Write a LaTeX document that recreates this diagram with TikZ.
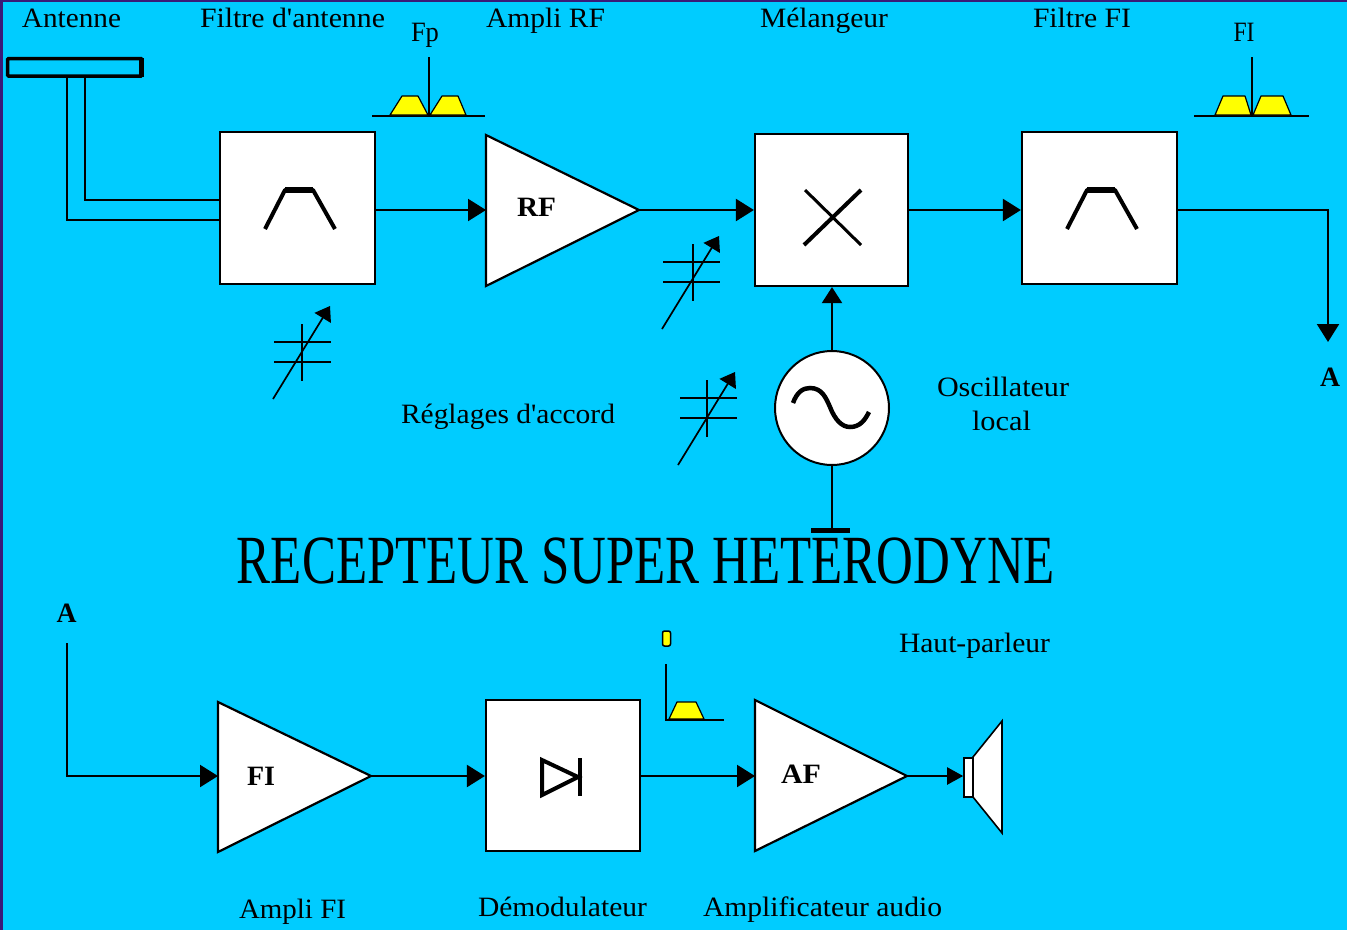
\documentclass[tikz,border=0pt]{standalone}
\usepackage{graphicx}
\usepackage{fontspec}
\setmainfont{Liberation Serif}[Ligatures=TeXOff]
\usetikzlibrary{arrows.meta}
\definecolor{sky}{HTML}{00CCFF}
\definecolor{edgepurple}{HTML}{3A1A78}
\definecolor{specyellow}{HTML}{FFFF00}
% label of a given width, height kept
\newcommand{\fitw}[2]{\resizebox{#1pt}{\height}{\fontsize{28}{30}\selectfont #2}}
\newcommand{\fitb}[2]{\resizebox{#1pt}{\height}{\fontsize{28}{30}\selectfont\bfseries #2}}
\tikzset{
  x=1pt,y=-1pt,
  wire/.style={line width=2.2pt,draw=black},
  flow/.style={wire,-{Triangle[length=18pt,width=22pt]}},
  smallflow/.style={wire,-{Triangle[length=16pt,width=17pt]}},
  upflow/.style={wire,-{Triangle[length=16pt,width=20pt]}},
  blockbox/.style={draw=black,fill=white,line width=2.2pt,rectangle,inner sep=0pt},
  amp/.style={draw=black,fill=white,line width=2.2pt,line join=miter},
  sym/.style={line width=4pt,draw=black},
  spec/.style={draw=black,fill=specyellow,line width=1.2pt,line join=round},
  txt/.style={inner sep=0pt,text=black,anchor=base},
  tune/.style={line width=2pt,draw=black},
  tunearrow/.style={line width=1.7pt,draw=black,-{Triangle[length=14pt,width=19pt]}},
}
\newcommand{\tuner}[6]{% x, y, name, plate y offset, stem x, plate x shift
  \begin{scope}[shift={(#1,#2)}]
    \coordinate (#3s) at (0,93);
    \coordinate (#3e) at (57,0);
    \draw[tune] (#5,{8+#4}) -- (#5,{65+#4});
    \draw[tune] (#6,{26+#4}) -- ({#6+57},{26+#4});
    \draw[tune] (#6,{46+#4}) -- ({#6+57},{46+#4});
    \draw[tunearrow] (#3s) -- (#3e);
  \end{scope}}
\begin{document}
\begin{tikzpicture}
\useasboundingbox (0,0) rectangle (1347,930);
\fill[edgepurple] (0,0) rectangle (1347,930);
\fill[sky] (3,2) rectangle (1347,930);
% top labels
\node[txt] (lant) at (71.5,27) {\fitw{99}{Antenne}};
\node[txt] (lfilt) at (292.5,27) {\fitw{185}{Filtre d'antenne}};
\node[txt] (lrf) at (545.5,27) {\fitw{119}{Ampli RF}};
\node[txt] (lmix) at (824,27) {\fitw{128}{Mélangeur}};
\node[txt] (lfi) at (1082,27) {\fitw{98}{Filtre FI}};
\node[txt] (lfp) at (425,41) {\fitw{28}{Fp}};
\node[txt] (lfi2) at (1244,41) {\fitw{21}{FI}};
% antenna
\draw[line width=3.5pt,rounded corners=1pt] (7.5,58.5) rectangle (142,76);
\draw[line width=5pt] (141.5,58) -- (141.5,77);
\coordinate (ant1) at (67,77);
\coordinate (ant2) at (85,77);
% blocks
\node[blockbox,minimum width=155pt,minimum height=152pt] (filt) at (297.5,208) {};
\node[blockbox,minimum width=153pt,minimum height=152pt] (mix) at (831.5,210) {};
\node[blockbox,minimum width=155pt,minimum height=152pt] (ffi) at (1099.5,208) {};
\node[blockbox,minimum width=154pt,minimum height=151pt] (dem) at (563,775.5) {};
\node[circle,draw=black,fill=white,line width=2pt,minimum size=114pt,inner sep=0pt] (osc) at (832,408) {};
% amplifiers
\draw[amp] (486,135) -- (639,210) -- (486,286) -- cycle;
\coordinate (rfin) at (486,210); \coordinate (rfout) at (639,210);
\draw[amp] (218,702) -- (371,776) -- (218,852) -- cycle;
\coordinate (fiin) at (218,776); \coordinate (fiout) at (371,776);
\draw[amp] (755,700) -- (907,776) -- (755,851) -- cycle;
\coordinate (afin) at (755,776); \coordinate (afout) at (907,776);
\node[txt] (trf) at (536.5,216) {\fitb{39}{RF}};
\node[txt] (tfi) at (261,785) {\fitb{28}{FI}};
\node[txt] (taf) at (801,783) {\fitb{40}{AF}};
% antenna feeder
\draw[wire] (ant1) |- (filt.west |- 0,220);
\draw[wire] (ant2) |- (filt.west |- 0,200);
% connectors
\draw[flow] (filt.east |- rfin) -- (rfin);
\draw[flow] (rfout) -- (mix.west |- rfout);
\draw[flow] (mix.east) -- (ffi.west |- mix.east);
\coordinate (a1) at (1328,342);
\draw[flow] (ffi.east |- rfout) -| (a1);
\draw[upflow] (osc.north) -- (mix.south -| osc.north);
\coordinate (gnd) at (832,530);
\draw[wire] (osc.south) -- (gnd);
\draw[line width=5pt] ([xshift=-21pt]gnd) -- ([xshift=18pt]gnd);
\node[txt] (la1) at (1330,386) {\fitb{20}{A}};
\node[txt] (la2) at (66.5,622) {\fitb{20}{A}};
\coordinate (astart) at (67,643);
\draw[flow] (astart) |- (fiin);
\draw[flow] (fiout) -- (dem.west |- fiout);
\draw[flow] (dem.east |- afin) -- (afin);
% speaker
\draw[amp,line width=1.6pt] (973,757) -- (1002,721) -- (1002,833) -- (973,797) -- cycle;
\node[blockbox,line width=1.6pt,minimum width=9pt,minimum height=39pt] (spk) at (968.5,777.5) {};
\draw[smallflow] (afout) -- (spk.west |- afout);
% filter symbols
\draw[sym,line join=round] (265,229) -- (285,190) -- (313,190) -- (335,229);
\draw[line width=6pt] (285,189.5) -- (313,189.5);
\draw[sym,line join=round] (1067,229) -- (1087,190) -- (1115,190) -- (1137,229);
\draw[line width=6pt] (1087,189.5) -- (1115,189.5);
% mixer cross
\draw[line width=4pt] (804,245) -- (861,190);
\draw[line width=3pt] (805,190) -- (861,245);
% sine
\draw[line width=4.5pt] (793,403) .. controls (797,392) and (803,388) .. (810,388)
  .. controls (822,388) and (826,398) .. (830,407)
  .. controls (835,420) and (842,427) .. (850,427)
  .. controls (860,427) and (865,420) .. (869,412);
% diode
\draw[line width=4pt,line join=miter] (542,760) -- (578,777) -- (542,795) -- cycle;
\draw[line width=4pt] (580,758) -- (580,796);
% tuners
\tuner{273}{306}{ta}{10}{29}{1}
\tuner{662}{236}{tb}{0}{31}{1}
\tuner{678}{372}{tc}{0}{29}{2}
% spectra
\draw[wire] (372,116) -- (485,116);
\draw[spec] (390,115) -- (402,96) -- (418,96) -- (428,115) -- cycle;
\draw[spec] (430,115) -- (442,96) -- (458,96) -- (466,115) -- cycle;
\draw[wire] (429,57) -- (429,116);
\draw[wire] (1194,116) -- (1309,116);
\draw[spec] (1215,115) -- (1223,96) -- (1245,96) -- (1251,115) -- cycle;
\draw[spec] (1253,115) -- (1261,96) -- (1283,96) -- (1291,115) -- cycle;
\draw[wire] (1252,57) -- (1252,116);
\draw[spec] (669,719) -- (677,702) -- (696,702) -- (704,719) -- cycle;
\draw[wire] (666,664) -- (666,720) -- (724,720);
\draw[spec,line width=1.5pt,rounded corners=2pt] (662.5,631) rectangle (670.5,646);
% other labels
\node[txt] (lreg) at (508,423) {\fitw{214}{Réglages d'accord}};
\node[txt] (losc) at (1003,396) {\fitw{132}{Oscillateur}};
\node[txt] (losd) at (1001.5,430) {\fitw{59}{local}};
\node[txt] (lhp) at (974.5,652) {\fitw{151}{Haut-parleur}};
\node[txt] (lafi) at (292.5,918) {\fitw{107}{Ampli FI}};
\node[txt] (ldem) at (562.5,916) {\fitw{169}{Démodulateur}};
\node[txt] (laud) at (822.5,916) {\fitw{239}{Amplificateur audio}};
% title
\node[txt] (title) at (646,583) {\resizebox{818pt}{\height}{\fontsize{69}{74}\selectfont RECEPTEUR SUPER HETERODYNE}};
\end{tikzpicture}
\end{document}
